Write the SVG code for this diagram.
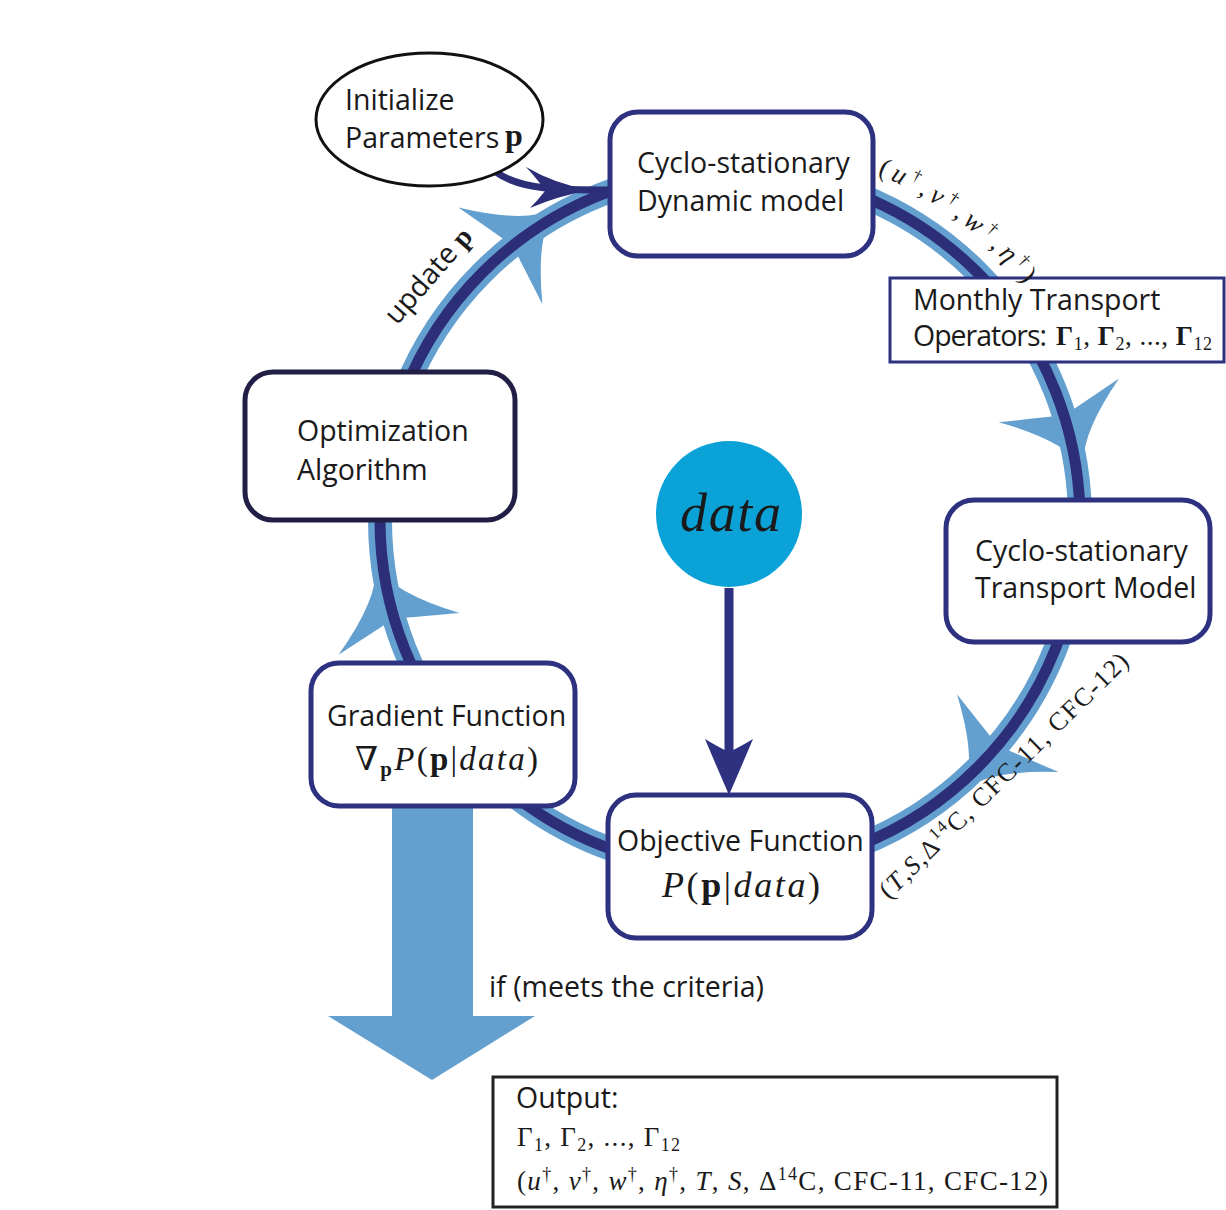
<svg xmlns="http://www.w3.org/2000/svg" xmlns:xlink="http://www.w3.org/1999/xlink" width="1226" height="1210" viewBox="0 0 1226 1210">
<style>
.sans{font-family:"Open Sans","Liberation Sans",sans-serif;font-size:28.5px;fill:#1a1a1a}
.math{font-family:"Liberation Serif","DejaVu Serif",serif;fill:#1a1a1a}
.it{font-style:italic}
.bf{font-weight:bold}
.box{fill:#fff;stroke:#2e3180;stroke-width:5}
.sq{fill:#fff;stroke:#2e3180;stroke-width:3}
.light{fill:#64a0cf}
</style>
<defs>
<path id="ah" d="M72 0 Q40 -8 0 -64 Q10 -24 16 0 Q10 24 0 64 Q40 8 72 0 Z"/>
<path id="arcTR" d="M858.6 166.7 A378 378 0 0 1 1057 331"/>
</defs>
<rect width="1226" height="1210" fill="#fff"/>
<g id="connectors">
<circle cx="730" cy="520" r="350" fill="none" stroke="#64a0cf" stroke-width="24"/>
<g class="light">
<use href="#ah" transform="translate(500.4 255.9) rotate(-41)"/>
<use href="#ah" transform="translate(1058.9 400.3) rotate(70)"/>
<use href="#ah" transform="translate(1007.7 733.1) rotate(127.5)"/>
<use href="#ah" transform="translate(399.1 633.9) rotate(251)"/>
</g>
<circle cx="730" cy="520" r="350" fill="none" stroke="#2c2f78" stroke-width="11"/>
<path d="M496 172 C520 190 560 190 612 190" fill="none" stroke="#2c2f78" stroke-width="7"/>
<path d="M590 190 Q555 184 526 167 Q540 182 545 191 Q538 200 530 208 Q558 196 590 190 Z" fill="#2c2f78"/>
<line x1="729" y1="588" x2="729" y2="752" stroke="#2e3180" stroke-width="9"/>
<path d="M729 795 Q716 765 705 739 Q720 748 729 752 Q738 748 753 739 Q742 765 729 795 Z" fill="#2e3180"/>
<polygon points="392,806 473,806 473,1016 535,1016 432,1080 328,1016 392,1016" fill="#64a0cf"/>
</g>
<g id="initialize">
<ellipse cx="429.5" cy="119.5" rx="113.5" ry="66.5" fill="#fff" stroke="#111" stroke-width="3"/>
<text class="sans" x="345" y="110">Initialize</text>
<text class="sans" x="345" y="148">Parameters</text>
<text class="math bf" x="505" y="146" font-size="32">p</text>
</g>
<g id="dynamic">
<rect class="box" x="610" y="112" width="263" height="144" rx="28"/>
<text class="sans" x="637" y="173">Cyclo-stationary</text>
<text class="sans" x="637" y="211">Dynamic model</text>
</g>
<g id="optimization">
<rect class="box" x="245" y="372" width="270" height="148" rx="28" style="stroke:#221f47"/>
<text class="sans" x="297" y="441">Optimization</text>
<text class="sans" x="297" y="480">Algorithm</text>
</g>
<g id="monthly">
<rect class="sq" x="890" y="278" width="334" height="84"/>
<text class="sans" x="913" y="310">Monthly Transport</text>
<text class="sans" x="913" y="346" textLength="134">Operators:</text>
<text class="math" x="1056" y="345" font-size="27" textLength="156">
<tspan class="bf">Γ</tspan><tspan font-size="18" dy="5">1</tspan><tspan dy="-5">, </tspan><tspan class="bf">Γ</tspan><tspan font-size="18" dy="5">2</tspan><tspan dy="-5">, ..., </tspan><tspan class="bf">Γ</tspan><tspan font-size="18" dy="5">12</tspan></text>
</g>
<g id="transport">
<rect class="box" x="946" y="500" width="264" height="142" rx="28"/>
<text class="sans" x="975" y="561">Cyclo-stationary</text>
<text class="sans" x="975" y="598">Transport Model</text>
</g>
<g id="data">
<circle cx="729" cy="514" r="73" fill="#0ba2d8"/>
<text class="math it" x="680" y="531" font-size="54" textLength="101">data</text>
</g>
<g id="gradient">
<rect class="box" x="311" y="663" width="264" height="143" rx="28"/>
<text class="sans" x="327" y="726">Gradient Function</text>
<text class="math" x="355" y="770" font-size="33" textLength="183">∇<tspan class="bf" font-size="21" dy="6">p</tspan><tspan class="it" dy="-6">P</tspan>(<tspan class="bf">p</tspan>|<tspan class="it">data</tspan>)</text>
</g>
<g id="objective">
<rect class="box" x="608" y="795" width="264" height="143" rx="28"/>
<text class="sans" x="617" y="851">Objective Function</text>
<text class="math" x="662" y="897" font-size="36" textLength="158"><tspan class="it">P</tspan>(<tspan class="bf">p</tspan>|<tspan class="it">data</tspan>)</text>
</g>
<g id="labels">
<text class="sans" font-size="26" transform="translate(397 326) rotate(-49)">update <tspan class="math bf" font-size="28">p</tspan></text>
<text class="math" font-size="27"><textPath href="#arcTR" startOffset="20" textLength="186">(<tspan class="it">u</tspan><tspan font-size="17" dy="-10">†</tspan><tspan dy="10">,</tspan><tspan class="it">v</tspan><tspan font-size="17" dy="-10">†</tspan><tspan dy="10">,</tspan><tspan class="it">w</tspan><tspan font-size="17" dy="-10">†</tspan><tspan dy="10">,</tspan><tspan class="it">η</tspan><tspan font-size="17" dy="-10">†</tspan><tspan dy="10">)</tspan></textPath></text>
<text class="math" font-size="26" transform="translate(889 900) rotate(-44.5)" x="0" y="0" textLength="338">(<tspan class="it">T</tspan>,<tspan class="it">S</tspan>,Δ<tspan font-size="17" dy="-10">14</tspan><tspan dy="10">C, CFC-11, CFC-12)</tspan></text>
<text class="sans" x="489" y="997">if (meets the criteria)</text>
</g>
<g id="output">
<rect x="493" y="1077" width="564" height="130" fill="#fff" stroke="#222" stroke-width="3"/>
<text class="sans" x="516" y="1108">Output:</text>
<text class="math" x="517" y="1146" font-size="27" textLength="163">Γ<tspan font-size="18" dy="5">1</tspan><tspan dy="-5">, Γ</tspan><tspan font-size="18" dy="5">2</tspan><tspan dy="-5">, ..., Γ</tspan><tspan font-size="18" dy="5">12</tspan></text>
<text class="math" x="517" y="1190" font-size="27" textLength="531">(<tspan class="it">u</tspan><tspan font-size="18" dy="-10">†</tspan><tspan dy="10">, </tspan><tspan class="it">v</tspan><tspan font-size="18" dy="-10">†</tspan><tspan dy="10">, </tspan><tspan class="it">w</tspan><tspan font-size="18" dy="-10">†</tspan><tspan dy="10">, </tspan><tspan class="it">η</tspan><tspan font-size="18" dy="-10">†</tspan><tspan dy="10">, </tspan><tspan class="it">T</tspan>, <tspan class="it">S</tspan>, Δ<tspan font-size="18" dy="-10">14</tspan><tspan dy="10">C, CFC-11, CFC-12)</tspan></text>
</g>
</svg>
